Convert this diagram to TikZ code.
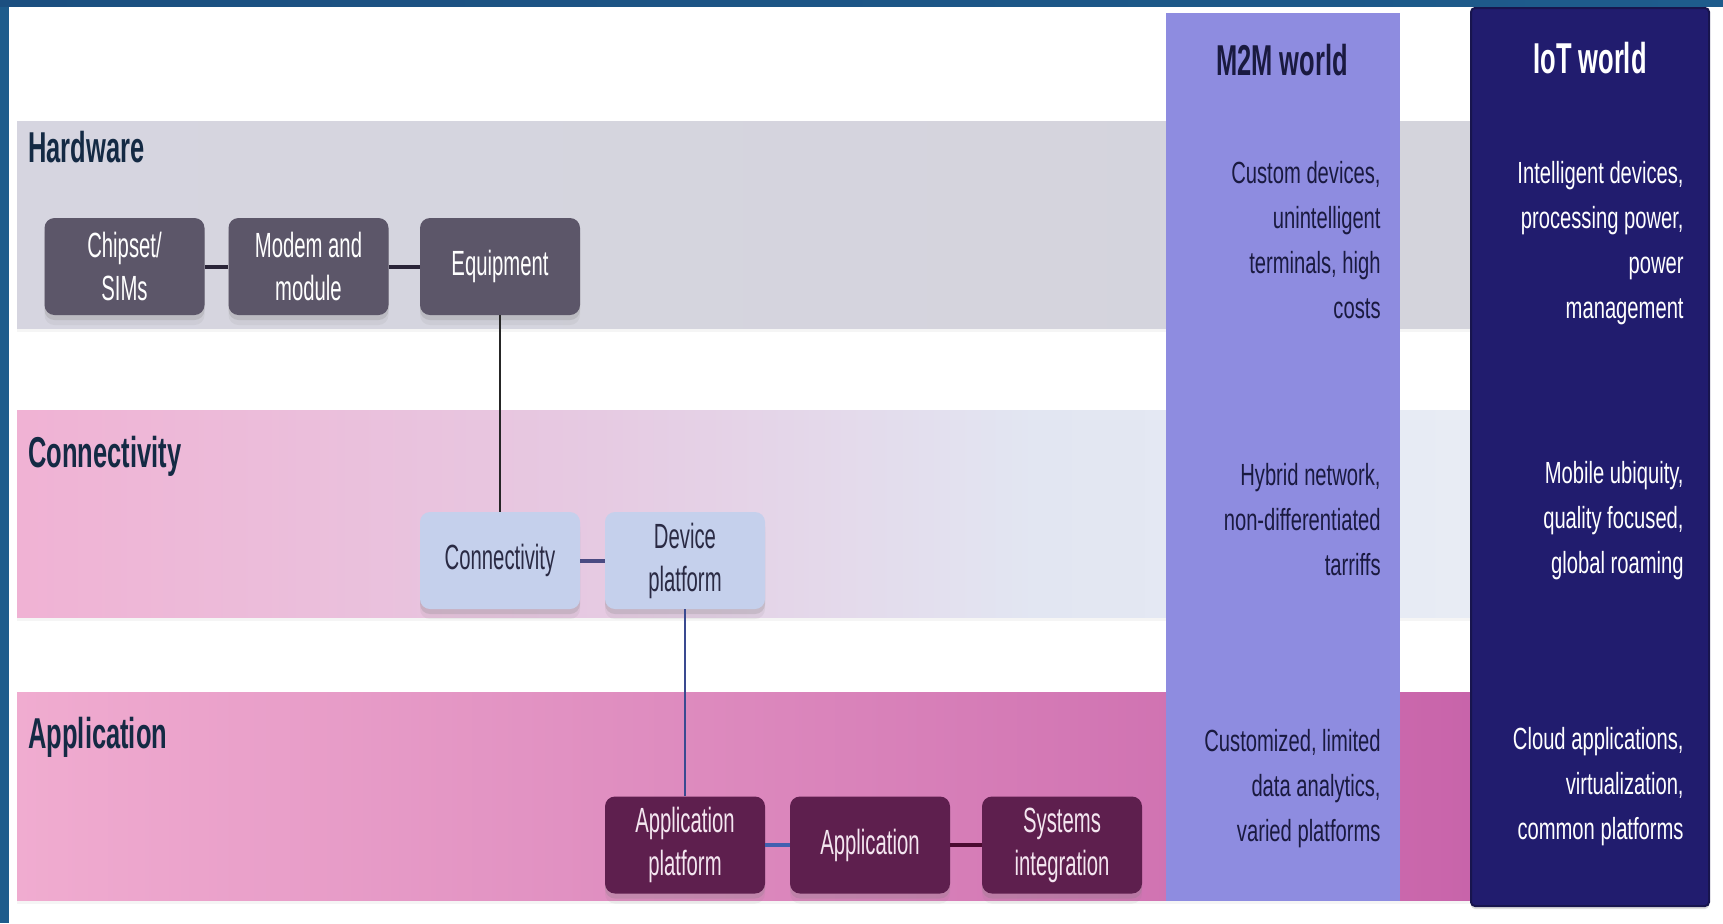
\documentclass[tikz,border=0pt]{standalone}
\usepackage{fontspec}
\setmainfont{Liberation Sans}
\newfontfamily\boxfont{Liberation Sans}[FakeStretch=0.58]
\newfontfamily\colfont{Liberation Sans}[FakeStretch=0.66]
\newfontfamily\ttlfont{Liberation Sans}[FakeStretch=0.59]
\usetikzlibrary{shadows}
\definecolor{framea}{HTML}{1B4F80}
\definecolor{frameb}{HTML}{3A88BC}
\definecolor{framec}{HTML}{1E5C8C}
\definecolor{hwfill}{HTML}{5C5669}
\definecolor{cnfill}{HTML}{C5D0EC}
\definecolor{apfill}{HTML}{5E1F4E}
\definecolor{cntext}{HTML}{2A2A44}
\definecolor{aptext}{HTML}{F4E6F0}
\definecolor{ttlcol}{HTML}{142A44}
\definecolor{m2mfill}{HTML}{8E8CE0}
\definecolor{m2mtext}{HTML}{1A1A40}
\definecolor{iotfill}{HTML}{211C6E}
\definecolor{iotedge}{HTML}{18154E}
\definecolor{hwl}{HTML}{D6D5E0}
\definecolor{hwm}{HTML}{C8C8D6}
\definecolor{hwr}{HTML}{D4D4DC}
\definecolor{cnl}{HTML}{F0B2D4}
\definecolor{cnm}{HTML}{E6CAE2}
\definecolor{cnr}{HTML}{E2E6F2}
\definecolor{cnrr}{HTML}{E8ECF4}
\definecolor{apl}{HTML}{F0ACD0}
\definecolor{apm}{HTML}{DA8CC4}
\definecolor{apr}{HTML}{C864AA}
\definecolor{lnhw}{HTML}{2A2438}
\definecolor{lncn}{HTML}{4A4A82}
\definecolor{lnv}{HTML}{3A4A90}
\definecolor{lnap}{HTML}{4060B0}
\definecolor{lnsi}{HTML}{4A0A30}
\pgfdeclarehorizontalshading{cnshade}{100bp}{color(0bp)=(cnl); color(25bp)=(cnl);
  color(45bp)=(cnm); color(60bp)=(cnr); color(75bp)=(cnrr); color(100bp)=(cnrr)}
\begin{document}
\begin{tikzpicture}[x=0.5pt,y=-0.5pt,
  softshadow/.style={
    drop shadow={shadow xshift=0pt, shadow yshift=-2.5pt, opacity=0.22},
    drop shadow={shadow xshift=0pt, shadow yshift=-5pt, opacity=0.1}},
  boxbase/.style={rounded corners=5pt, minimum width=80pt, minimum height=48.5pt,
    inner sep=0pt, align=center, font=\boxfont\fontsize{17.5}{21.5}\selectfont,
    softshadow},
  hwbox/.style={boxbase, fill=hwfill, text=white},
  cnbox/.style={boxbase, fill=cnfill, text=cntext},
  apbox/.style={boxbase, fill=apfill, text=aptext},
  bandtitle/.style={anchor=base west, inner sep=0pt, text=ttlcol,
    font=\ttlfont\bfseries\fontsize{21.6}{26}\selectfont},
  coltitle/.style={anchor=base, inner sep=0pt,
    font=\ttlfont\bfseries\fontsize{21.6}{26}\selectfont},
  coltext/.style={anchor=base east, inner sep=0pt, align=right,
    font=\colfont\fontsize{15.3}{22.5}\selectfont},
  bandshadow/.style={drop shadow={shadow xshift=0pt, shadow yshift=-2pt, opacity=0.08}},
  thickline/.style={line width=2pt},
  thinline/.style={line width=1pt}]
\useasboundingbox (0,0) rectangle (1723,923);
\fill[white] (0,0) rectangle (1723,923);
% frame
\fill[framec] (0,0) rectangle (9,923);
\shade[left color=framea, middle color=frameb, right color=framec] (0,0) rectangle (1723,6);
% bands
\shade[left color=hwl, middle color=hwm, right color=hwr, bandshadow] (17,121) rectangle (1471,328);
\shade[shading=cnshade, bandshadow] (17,410) rectangle (1471,617);
\shade[left color=apl, middle color=apm, right color=apr, bandshadow] (17,692) rectangle (1471,900);
% columns
\fill[m2mfill] (1166,13) rectangle (1400,901);
\draw[iotedge, fill=iotfill, line width=1pt, rounded corners=2pt,
  drop shadow={shadow xshift=0pt, shadow yshift=-1.5pt, opacity=0.25}] (1471,8) rectangle (1709,906);
% band titles
\node[bandtitle] (thw) at (28,162) {Hardware};
\node[bandtitle] (tcn) at (28,467) {Connectivity};
\node[bandtitle] (tap) at (28,748) {Application};
% boxes
\node[hwbox] (chip) at (124.5,266.5) {Chipset/\\SIMs};
\node[hwbox] (modem) at (308.5,266.5) {Modem and\\module};
\node[hwbox] (equip) at (500,266.5) {Equipment};
\node[cnbox] (conn) at (500,560.5) {Connectivity};
\node[cnbox] (devp) at (685,560.5) {Device\\platform};
\node[apbox] (appp) at (685,845) {Application\\platform};
\node[apbox] (app) at (870,845) {Application};
\node[apbox] (sysi) at (1062,845) {Systems\\integration};
% connectors
\draw[thickline, lnhw] (chip) -- (modem);
\draw[thickline, lnhw] (modem) -- (equip);
\draw[thinline, black!85] (equip) -- (conn);
\draw[thickline, lncn] (conn) -- (devp);
\draw[thinline, lnv] (devp) -- (appp);
\draw[thickline, lnap] (appp) -- (app);
\draw[thickline, lnsi] (app) -- (sysi);
% column titles
\node[coltitle, text=m2mtext] (m2mt) at (1282,75) {M2M world};
\node[coltitle, text=white] (iott) at (1590,73) {IoT world};
% column texts (anchored at the baseline of the last line)
\node[coltext, text=m2mtext] (m2mhw) at (1381,318) {Custom devices,\\unintelligent\\terminals, high\\costs};
\node[coltext, text=m2mtext] (m2mcn) at (1381,575) {Hybrid network,\\non-differentiated\\tarriffs};
\node[coltext, text=m2mtext] (m2map) at (1381,841) {Customized, limited\\data analytics,\\varied platforms};
\node[coltext, text=white] (iothw) at (1684,318) {Intelligent devices,\\processing power,\\power\\management};
\node[coltext, text=white] (iotcn) at (1684,573) {Mobile ubiquity,\\quality focused,\\global roaming};
\node[coltext, text=white] (iotap) at (1684,839) {Cloud applications,\\virtualization,\\common platforms};
\end{tikzpicture}
\end{document}
